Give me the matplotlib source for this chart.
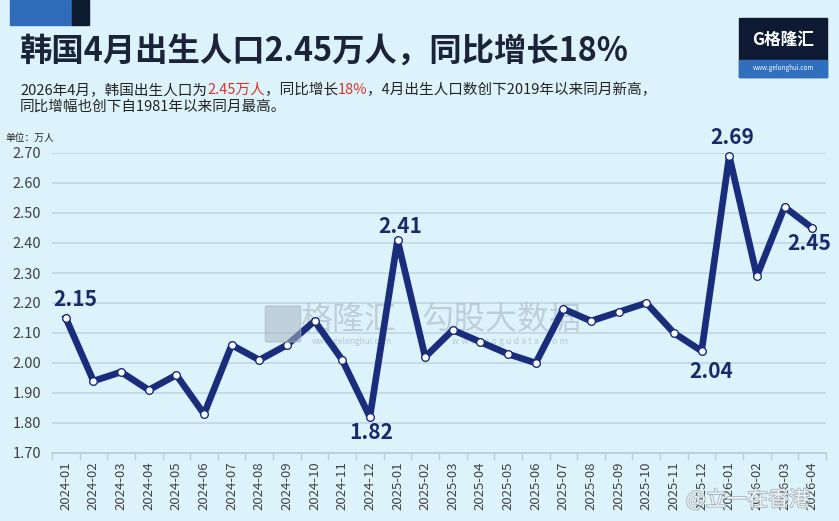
import numpy as np
import matplotlib.pyplot as plt
import matplotlib.patheffects as pe
from matplotlib.patches import Rectangle, FancyBboxPatch

plt.rcParams['font.family'] = ['Noto Sans CJK SC', 'DejaVu Sans']

# 数据
months = ['2024-01', '2024-02', '2024-03', '2024-04', '2024-05', '2024-06',
          '2024-07', '2024-08', '2024-09', '2024-10', '2024-11', '2024-12',
          '2025-01', '2025-02', '2025-03', '2025-04', '2025-05', '2025-06',
          '2025-07', '2025-08', '2025-09', '2025-10', '2025-11', '2025-12',
          '2026-01', '2026-02', '2026-03', '2026-04']
births = [2.15, 1.94, 1.97, 1.91, 1.96, 1.83,
          2.06, 2.01, 2.06, 2.14, 2.01, 1.82,
          2.41, 2.02, 2.11, 2.07, 2.03, 2.00,
          2.18, 2.14, 2.17, 2.20, 2.10, 2.04,
          2.69, 2.29, 2.52, 2.45]
yticks = [1.70, 1.80, 1.90, 2.00, 2.10, 2.20, 2.30, 2.40, 2.50, 2.60, 2.70]
labeled = ['2024-01', '2024-12', '2025-01', '2025-12', '2026-01', '2026-04']

bg = '#ddf3fc'
navy = '#1a2d7c'

fig = plt.figure(figsize=(8.39, 5.21), dpi=100, facecolor=bg)

# 左上角装饰块
fig.patches.append(Rectangle((10/839, 1-25/521), 62/839, 25/521, transform=fig.transFigure,
                             color='#2f6bb8', zorder=1))
fig.patches.append(Rectangle((72/839, 1-25/521), 17/839, 25/521, transform=fig.transFigure,
                             color='#0e1a30', zorder=1))

# 标题
fig.text(20/839, 1-52/521, '韩国4月出生人口2.45万人，同比增长18%', fontsize=23.3, fontweight='bold',
         color='#1b2338', va='center', ha='left')

# 副标题（分段着色）
y1 = 1-90/521
parts = [('2026年4月，韩国出生人口为', '#222222'), ('2.45万人', '#d9342b'),
         ('，同比增长', '#222222'), ('18%', '#d9342b'),
         ('，4月出生人口数创下2019年以来同月新高，', '#222222')]
renderer = fig.canvas.get_renderer()
x = 20/839
for s, c in parts:
    t = fig.text(x, y1, s, fontsize=10.5, color=c, va='center', ha='left')
    bb = t.get_window_extent(renderer=renderer)
    x += bb.width / fig.bbox.width
fig.text(20/839, 1-107/521, '同比增幅也创下自1981年以来同月最高。', fontsize=10.5, color='#222222',
         va='center', ha='left')

# 右上角 logo
fig.patches.append(Rectangle((739/839, 1-77/521), 88/839, 59/521, transform=fig.transFigure,
                             color='#0e1a33', zorder=1))
fig.patches.append(Rectangle((739/839, 1-77/521), 88/839, 17/521, transform=fig.transFigure,
                             color='#2f6fbe', zorder=2))
fig.text(783/839, 1-40/521, 'G格隆汇', fontsize=12, fontweight='bold', color='white',
         ha='center', va='center', zorder=3)
fig.text(783/839, 1-68/521, 'www.gelonghui.com', fontsize=4.5, color='white',
         ha='center', va='center', zorder=3)

fig.text(5/839, 1-138/521, '单位：万人', fontsize=7, color='#222222', ha='left', va='center')

# 主图
ax = fig.add_axes([52/839, 68/521, 774/839, 300/521])
ax.set_facecolor(bg)
xs = np.arange(len(months))

# 水印
fig.patches.append(FancyBboxPatch((267/839, 1-341/521), 32/839, 34/521,
                                  boxstyle='round,pad=0.002', transform=fig.transFigure,
                                  color='#a9b6c0', alpha=0.55, zorder=0.5))
ax.text(0.382, 0.443, '格隆汇', transform=ax.transAxes, fontsize=23, color='#a9b6c0',
        alpha=0.6, ha='center', va='center', zorder=1)
ax.text(0.388, 0.37, 'www.gelonghui.com', transform=ax.transAxes, fontsize=6, color='#a9b6c0',
        alpha=0.7, ha='center', va='center', zorder=1)
ax.text(0.581, 0.443, '勾股大数据', transform=ax.transAxes, fontsize=23, color='#a9b6c0',
        alpha=0.6, ha='center', va='center', zorder=1)
ax.text(0.592, 0.37, 'w w w . g o g u d a t a . c o m', transform=ax.transAxes, fontsize=6.5,
        color='#a9b6c0', alpha=0.7, ha='center', va='center', zorder=1)

for yv in yticks[1:]:
    ax.axhline(yv, color='#c3d8e2', lw=1.3, zorder=0)

ax.plot(xs, births, color=navy, lw=4.8, marker='o', markersize=5.5,
        markerfacecolor='white', markeredgecolor=navy, markeredgewidth=1,
        solid_joinstyle='round', zorder=3, clip_on=False)

offsets = {'2024-01': (6.5, 13), '2024-12': (1, -11), '2025-01': (2, 10),
           '2025-12': (7, -14.5), '2026-01': (2, 13), '2026-04': (-2, -11)}
for m in labeled:
    i = months.index(m)
    dx, dy = offsets[m]
    ax.annotate(f'{births[i]:.2f}', (xs[i], births[i]), xytext=(dx, dy),
                textcoords='offset points', ha='center', va='center',
                fontsize=15, fontweight='bold', color='#182a6a', zorder=4)

ax.set_xlim(-0.5, len(months) - 0.5)
ax.set_ylim(1.70, 2.70)
ax.set_yticks(yticks)
ax.set_yticklabels([f'{v:.2f}' for v in yticks], fontsize=10.5, color='#404040')
ax.tick_params(axis='y', length=0, pad=8)
ax.set_xticks(xs)
ax.set_xticklabels(months, rotation=90, fontsize=9.5, color='#404040')
ax.tick_params(axis='x', length=0, pad=6)
ax.set_xticks(np.arange(len(months) + 1) - 0.5, minor=True)
ax.tick_params(axis='x', which='minor', length=5, color='#b8cdd8', width=1)
for s in ['top', 'right', 'left']:
    ax.spines[s].set_visible(False)
ax.spines['bottom'].set_color('#b8cdd8')
ax.spines['bottom'].set_linewidth(1.3)

# 微博水印
fig.text(748/839, 1-500/521, '@立一在香港', fontsize=15, color='white', alpha=0.85,
         ha='center', va='center', zorder=5,
         path_effects=[pe.withStroke(linewidth=1.2, foreground='#9aa6ae')])

fig.savefig('out.png', dpi=100, facecolor=bg)
